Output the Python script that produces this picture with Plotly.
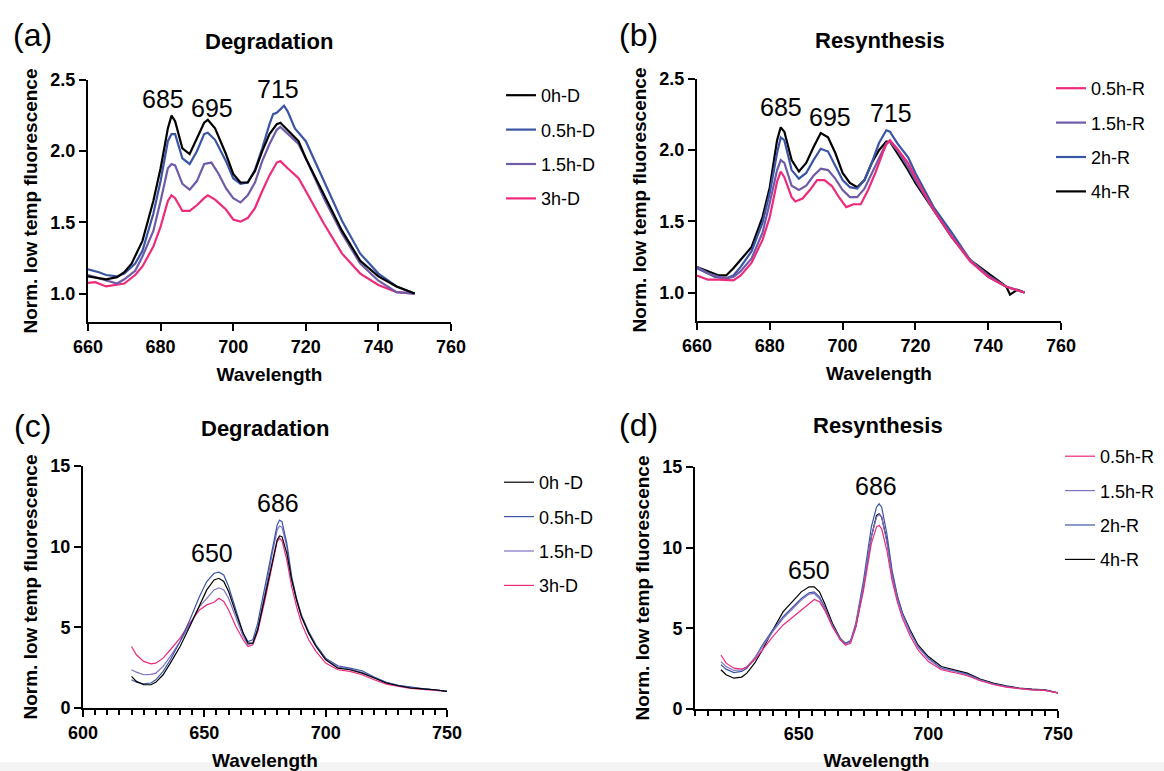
import plotly.graph_objects as go

# ---------------- Panel (a): Degradation, 660-750 nm ----------------
a_x_0h = [660, 665, 668, 670, 672, 675, 678, 680, 682, 683, 684, 686, 688, 690, 692, 693, 695, 698, 700,
          702, 704, 706, 708, 710, 712, 713, 715, 718, 720, 725, 730, 735, 740, 745, 750]
a_y_0h = [1.12, 1.10, 1.115, 1.15, 1.21, 1.37, 1.65, 1.88, 2.16, 2.25, 2.21, 2.02, 1.98, 2.09, 2.20, 2.22,
          2.16, 1.98, 1.84, 1.78, 1.78, 1.86, 2.00, 2.12, 2.19, 2.20, 2.15, 2.07, 1.95, 1.70, 1.44, 1.23,
          1.12, 1.05, 1.00]
a_x_05h = [660, 663, 665, 668, 670, 673, 675, 678, 680, 682, 683, 684, 686, 688, 690, 692, 693, 695, 698,
           700, 702, 704, 706, 708, 710, 711, 712, 714, 715, 717, 720, 725, 730, 735, 740, 745, 750]
a_y_05h = [1.17, 1.15, 1.13, 1.12, 1.14, 1.21, 1.30, 1.56, 1.79, 2.07, 2.12, 2.12, 1.95, 1.91, 2.00, 2.12,
           2.13, 2.08, 1.93, 1.81, 1.77, 1.78, 1.87, 2.02, 2.19, 2.26, 2.27, 2.32, 2.28, 2.16, 2.07, 1.79,
           1.51, 1.28, 1.14, 1.05, 1.00]
a_x_15h = [660, 665, 668, 670, 673, 675, 678, 680, 682, 683, 684, 686, 688, 690, 692, 694, 696, 698, 700,
           702, 704, 706, 708, 710, 712, 713, 715, 718, 720, 725, 730, 735, 740, 745, 750]
a_y_15h = [1.13, 1.09, 1.07, 1.10, 1.16, 1.26, 1.44, 1.65, 1.88, 1.91, 1.90, 1.77, 1.73, 1.79, 1.91, 1.92,
           1.84, 1.74, 1.67, 1.64, 1.69, 1.78, 1.93, 2.05, 2.15, 2.17, 2.12, 2.05, 1.95, 1.67, 1.42, 1.21,
           1.09, 1.01, 1.00]
a_x_3h = [660, 662, 665, 668, 670, 673, 675, 678, 680, 682, 683, 684, 686, 688, 690, 692, 693, 695, 698,
          700, 702, 704, 706, 708, 710, 712, 713, 715, 718, 720, 725, 730, 735, 740, 745, 750]
a_y_3h = [1.075, 1.08, 1.05, 1.06, 1.07, 1.13, 1.19, 1.33, 1.47, 1.65, 1.69, 1.67, 1.58, 1.58, 1.62, 1.67,
          1.69, 1.66, 1.59, 1.52, 1.505, 1.53, 1.60, 1.72, 1.83, 1.92, 1.93, 1.88, 1.81, 1.72, 1.49, 1.28,
          1.14, 1.06, 1.01, 1.00]

# ---------------- Panel (b): Resynthesis, 660-750 nm ----------------
b_x_4h = [660, 663, 666, 668, 670, 672, 675, 678, 680, 682, 683, 684, 686, 688, 690, 692, 694, 696, 698,
          700, 702, 704, 706, 708, 710, 712, 713, 715, 718, 720, 725, 730, 735, 740, 745, 746, 748, 750]
b_y_4h = [1.18, 1.15, 1.12, 1.12, 1.17, 1.23, 1.32, 1.53, 1.74, 2.07, 2.16, 2.13, 1.93, 1.85, 1.91, 2.02,
          2.12, 2.09, 1.98, 1.84, 1.77, 1.74, 1.79, 1.91, 2.00, 2.06, 2.06, 1.98, 1.86, 1.77, 1.58, 1.39,
          1.23, 1.135, 1.04, 0.985, 1.02, 1.00]
b_x_2h = [660, 665, 668, 670, 672, 675, 678, 680, 682, 683, 684, 686, 688, 690, 692, 694, 696, 698, 700,
          702, 704, 706, 708, 710, 712, 713, 715, 718, 720, 725, 730, 735, 740, 745, 750]
b_y_2h = [1.17, 1.11, 1.10, 1.12, 1.18, 1.29, 1.49, 1.70, 1.98, 2.09, 2.07, 1.86, 1.80, 1.84, 1.93, 2.01,
          1.99, 1.89, 1.79, 1.74, 1.73, 1.79, 1.91, 2.05, 2.14, 2.13, 2.05, 1.95, 1.84, 1.60, 1.42, 1.23,
          1.11, 1.04, 1.00]
b_x_15h = [660, 663, 666, 668, 670, 672, 675, 678, 680, 682, 683, 684, 686, 688, 690, 692, 694, 696, 698,
           700, 702, 704, 706, 708, 710, 712, 713, 715, 718, 720, 725, 730, 735, 740, 745, 750]
b_y_15h = [1.18, 1.135, 1.11, 1.10, 1.11, 1.15, 1.24, 1.42, 1.63, 1.86, 1.93, 1.91, 1.75, 1.72, 1.75, 1.82,
           1.87, 1.86, 1.80, 1.72, 1.67, 1.67, 1.73, 1.84, 1.95, 2.05, 2.06, 2.00, 1.88, 1.79, 1.58, 1.39,
           1.23, 1.12, 1.04, 1.00]
b_x_05h = [660, 663, 666, 668, 670, 672, 675, 678, 680, 682, 683, 684, 686, 687, 689, 691, 693, 695, 697,
           699, 701, 703, 705, 707, 709, 711, 712, 713, 715, 718, 720, 725, 730, 735, 740, 745, 750]
b_y_05h = [1.12, 1.09, 1.09, 1.09, 1.085, 1.12, 1.21, 1.37, 1.53, 1.78, 1.85, 1.81, 1.67, 1.64, 1.66, 1.72,
           1.79, 1.79, 1.75, 1.67, 1.60, 1.62, 1.62, 1.72, 1.84, 1.98, 2.04, 2.07, 2.01, 1.91, 1.81, 1.58,
           1.39, 1.22, 1.11, 1.04, 1.00]

# ---------------- Panels (c) and (d): 620-750 nm ----------------
cd_x = [620, 622, 625, 628, 630, 633, 636, 640, 644, 648, 651, 654, 656, 658, 660, 663, 666, 668, 670, 672,
        675, 678, 680, 681, 682, 684, 686, 688, 690, 693, 696, 700, 705, 710, 715, 720, 725, 730, 735, 740,
        745, 750]
c_y_0h = [1.96, 1.65, 1.44, 1.44, 1.59, 2.06, 2.78, 3.81, 5.05, 6.39, 7.32, 7.94, 8.04, 7.84, 7.22, 5.88,
          4.64, 4.02, 4.02, 4.85, 6.91, 9.18, 10.41, 10.66, 10.62, 9.59, 7.94, 6.70, 5.67, 4.64, 3.81, 2.99,
          2.47, 2.37, 2.16, 1.86, 1.55, 1.38, 1.24, 1.18, 1.13, 1.03]
c_y_05h = [1.75, 1.60, 1.50, 1.55, 1.75, 2.27, 2.99, 4.12, 5.46, 6.91, 7.84, 8.35, 8.42, 8.25, 7.53, 6.08,
           4.64, 4.12, 4.23, 5.26, 7.53, 10.00, 11.34, 11.65, 11.55, 10.21, 8.14, 6.80, 5.77, 4.74, 3.92,
           3.09, 2.62, 2.47, 2.31, 1.92, 1.59, 1.40, 1.28, 1.20, 1.13, 1.03]
c_y_15h = [2.37, 2.22, 2.06, 2.08, 2.16, 2.58, 3.20, 4.12, 5.15, 6.29, 6.80, 7.32, 7.45, 7.32, 6.80, 5.67,
           4.43, 3.92, 4.02, 4.95, 7.11, 9.59, 11.03, 11.28, 11.20, 10.00, 8.04, 6.70, 5.67, 4.64, 3.86,
           3.03, 2.54, 2.41, 2.21, 1.88, 1.57, 1.38, 1.26, 1.18, 1.13, 1.03]
c_y_3h = [3.81, 3.30, 2.89, 2.74, 2.78, 3.09, 3.61, 4.33, 5.26, 6.08, 6.39, 6.55, 6.80, 6.60, 6.08, 5.05,
          4.23, 3.81, 3.92, 4.74, 6.70, 8.97, 10.31, 10.52, 10.37, 9.18, 7.53, 6.29, 5.26, 4.23, 3.51, 2.78,
          2.37, 2.27, 2.06, 1.75, 1.48, 1.34, 1.22, 1.15, 1.11, 1.03]

d_y_05h = [3.35, 2.84, 2.53, 2.47, 2.59, 3.05, 3.66, 4.49, 5.21, 5.72, 6.13, 6.54, 6.79, 6.65, 6.13, 5.10,
           4.28, 3.97, 4.07, 5.06, 7.37, 10.25, 11.28, 11.38, 11.17, 9.84, 7.98, 6.65, 5.62, 4.53, 3.66,
           2.94, 2.43, 2.26, 2.06, 1.75, 1.52, 1.36, 1.26, 1.19, 1.15, 1.00]
d_y_15h = [2.94, 2.63, 2.39, 2.43, 2.63, 3.15, 3.87, 4.79, 5.62, 6.23, 6.75, 7.12, 7.16, 6.85, 6.23, 5.14,
           4.32, 4.03, 4.18, 5.21, 7.67, 10.66, 11.89, 12.06, 11.89, 10.35, 8.29, 6.85, 5.82, 4.73, 3.83,
           3.09, 2.51, 2.35, 2.12, 1.79, 1.54, 1.38, 1.26, 1.19, 1.15, 1.00]
d_y_2h = [2.74, 2.47, 2.26, 2.33, 2.53, 3.15, 3.97, 4.90, 5.72, 6.34, 6.85, 7.20, 7.26, 6.95, 6.34, 5.21,
          4.38, 4.07, 4.24, 5.31, 7.98, 11.28, 12.51, 12.72, 12.51, 10.86, 8.60, 7.06, 5.97, 4.79, 3.87,
          3.15, 2.53, 2.37, 2.16, 1.81, 1.56, 1.40, 1.28, 1.21, 1.17, 1.00]
d_y_4h = [2.43, 2.12, 1.91, 1.98, 2.22, 2.84, 3.66, 4.90, 6.03, 6.75, 7.26, 7.57, 7.57, 7.26, 6.54, 5.31,
          4.38, 4.07, 4.18, 5.10, 7.57, 10.66, 12.00, 12.10, 11.89, 10.45, 8.40, 6.95, 5.93, 4.90, 3.97,
          3.25, 2.63, 2.43, 2.22, 1.85, 1.60, 1.44, 1.30, 1.23, 1.19, 1.00]

# tick values
ab_xticks = [660, 680, 700, 720, 740, 760]
ab_yticks = [1.0, 1.5, 2.0, 2.5]
cd_yticks = [0, 5, 10, 15]

BLACK = "#000000"
BLUE = "#3B55A5"
PURPLE = "#6F5BA8"
PINK = "#EE2A7B"
LPURPLE = "#7E6FC4"

W, H = 1164, 771
FONT = "Liberation Sans"


def px_x(p):
    return p / W


def px_y(p):
    return 1 - p / H


fig = go.Figure()

# series definitions: (panel suffix, legend id, name, x, y, color, width, rank)
series = [
    ("", "legend", "0h-D", a_x_0h, a_y_0h, BLACK, 2.2, 1),
    ("", "legend", "0.5h-D", a_x_05h, a_y_05h, BLUE, 2.2, 2),
    ("", "legend", "1.5h-D", a_x_15h, a_y_15h, PURPLE, 2.2, 3),
    ("", "legend", "3h-D", a_x_3h, a_y_3h, PINK, 2.2, 4),
    ("2", "legend2", "0.5h-R", b_x_05h, b_y_05h, PINK, 2.2, 1),
    ("2", "legend2", "1.5h-R", b_x_15h, b_y_15h, PURPLE, 2.2, 2),
    ("2", "legend2", "2h-R", b_x_2h, b_y_2h, BLUE, 2.2, 3),
    ("2", "legend2", "4h-R", b_x_4h, b_y_4h, BLACK, 2.2, 4),
    ("3", "legend3", "0h -D", cd_x, c_y_0h, BLACK, 1.2, 1),
    ("3", "legend3", "0.5h-D", cd_x, c_y_05h, BLUE, 1.2, 2),
    ("3", "legend3", "1.5h-D", cd_x, c_y_15h, LPURPLE, 1.2, 3),
    ("3", "legend3", "3h-D", cd_x, c_y_3h, PINK, 1.2, 4),
    ("4", "legend4", "0.5h-R", cd_x, d_y_05h, PINK, 1.2, 1),
    ("4", "legend4", "1.5h-R", cd_x, d_y_15h, LPURPLE, 1.2, 2),
    ("4", "legend4", "2h-R", cd_x, d_y_2h, BLUE, 1.2, 3),
    ("4", "legend4", "4h-R", cd_x, d_y_4h, BLACK, 1.2, 4),
]

# first listed series drawn on top -> add in reverse order within each panel
for s in reversed(series):
    suf, leg, name, xs, ys, col, lw, rank = s
    fig.add_trace(go.Scatter(
        x=xs, y=ys, mode="lines", name=name,
        line=dict(color=col, width=lw),
        xaxis="x" + suf, yaxis="y" + suf,
        legend=leg, legendrank=rank, legendgroup=leg + name,
        showlegend=True,
    ))

tickfont = dict(family=FONT, size=18, color="black", weight="bold")
titlefont = dict(family=FONT, size=19, color="black", weight="bold")
ylabel = "Norm. low temp fluorescence"


def axis_base(**kw):
    d = dict(showline=True, linecolor="black", linewidth=2, ticks="outside", ticklen=7,
             tickwidth=2, tickcolor="black", showgrid=False, zeroline=False,
             tickfont=tickfont, fixedrange=True, automargin=False)
    d.update(kw)
    return d


# domains (pixel measurements from reference)
dom = {
    "a": dict(x=[px_x(88), px_x(451)], y=[px_y(322), px_y(80)]),
    "b": dict(x=[px_x(697), px_x(1061)], y=[px_y(321), px_y(79)]),
    "c": dict(x=[px_x(83), px_x(447)], y=[px_y(708), px_y(466)]),
    "d": dict(x=[px_x(695), px_x(1058)], y=[px_y(709), px_y(467)]),
}

fig.update_layout(
    xaxis=axis_base(domain=dom["a"]["x"], range=[660, 760], tickvals=ab_xticks, anchor="y",
                    title=dict(text="Wavelength", font=titlefont, standoff=12)),
    yaxis=axis_base(domain=dom["a"]["y"], range=[0.8, 2.5], tickvals=ab_yticks, tickformat=".1f",
                    anchor="x", title=dict(text=ylabel, font=titlefont, standoff=8)),
    xaxis2=axis_base(domain=dom["b"]["x"], range=[660, 760], tickvals=ab_xticks, anchor="y2",
                     title=dict(text="Wavelength", font=titlefont, standoff=12)),
    yaxis2=axis_base(domain=dom["b"]["y"], range=[0.8, 2.5], tickvals=ab_yticks, tickformat=".1f",
                     anchor="x2", title=dict(text=ylabel, font=titlefont, standoff=8)),
    xaxis3=axis_base(domain=dom["c"]["x"], range=[600, 750], tick0=600, dtick=50, anchor="y3",
                     minor=dict(dtick=5, tick0=600, ticks="outside", ticklen=5, tickwidth=2,
                                tickcolor="black", showgrid=False),
                     title=dict(text="Wavelength", font=titlefont, standoff=15)),
    yaxis3=axis_base(domain=dom["c"]["y"], range=[0, 15], tickvals=cd_yticks, anchor="x3",
                     title=dict(text=ylabel, font=titlefont, standoff=8)),
    xaxis4=axis_base(domain=dom["d"]["x"], range=[610, 750], tick0=600, dtick=50, anchor="y4",
                     minor=dict(dtick=5, tick0=600, ticks="outside", ticklen=5, tickwidth=2,
                                tickcolor="black", showgrid=False),
                     title=dict(text="Wavelength", font=titlefont, standoff=15)),
    yaxis4=axis_base(domain=dom["d"]["y"], range=[0, 15], tickvals=cd_yticks, anchor="x4",
                     title=dict(text=ylabel, font=titlefont, standoff=8)),
)

legfont = dict(family=FONT, size=18, color="black")


def legend_at(xp, yp):
    return dict(x=px_x(xp), y=px_y(yp), xanchor="left", yanchor="top", font=legfont,
                bgcolor="rgba(0,0,0,0)", borderwidth=0, tracegroupgap=8, itemwidth=30,
                traceorder="grouped")


fig.update_layout(
    legend=legend_at(501, 77),
    legend2=legend_at(1051, 70),
    legend3=legend_at(499, 464),
    legend4=legend_at(1060, 438),
)

# panel letters and titles
ann = []
for txt, xp, yp in [("(a)", 32, 35), ("(b)", 638, 35), ("(c)", 32, 426), ("(d)", 638, 425)]:
    ann.append(dict(text=txt, x=px_x(xp), y=px_y(yp), xref="paper", yref="paper", showarrow=False,
                    font=dict(family=FONT, size=32, color="black"), xanchor="center", yanchor="middle"))
for txt, xp, yp in [("Degradation", 269, 41), ("Resynthesis", 880, 40), ("Degradation", 265, 428),
                    ("Resynthesis", 878, 425)]:
    ann.append(dict(text=txt, x=px_x(xp), y=px_y(yp), xref="paper", yref="paper", showarrow=False,
                    font=dict(family=FONT, size=22, color="black", weight="bold"),
                    xanchor="center", yanchor="middle"))

# peak labels (data coordinates)
peak_labels = [
    ("685", 680.7, 2.37, "x", "y"), ("695", 694.2, 2.30, "x", "y"), ("715", 712.3, 2.44, "x", "y"),
    ("685", 683.1, 2.30, "x2", "y2"), ("695", 696.5, 2.23, "x2", "y2"), ("715", 713.3, 2.26, "x2", "y2"),
    ("650", 653.2, 9.6, "x3", "y3"), ("686", 680.3, 12.7, "x3", "y3"),
    ("650", 654.0, 8.6, "x4", "y4"), ("686", 679.8, 13.8, "x4", "y4"),
]
for txt, xv, yv, xr, yr in peak_labels:
    ann.append(dict(text=txt, x=xv, y=yv, xref=xr, yref=yr, showarrow=False,
                    font=dict(family=FONT, size=25, color="black"), xanchor="center", yanchor="middle"))

fig.update_layout(
    annotations=ann,
    shapes=[dict(type="rect", xref="paper", yref="paper", x0=0, x1=1, y0=0, y1=px_y(762),
                 fillcolor="#f4f4f4", line=dict(width=0), layer="below")],
    width=W, height=H,
    margin=dict(l=0, r=0, t=0, b=0, pad=0, autoexpand=False),
    paper_bgcolor="white", plot_bgcolor="white",
    showlegend=True,
)

fig.write_html("out.html", config={"displayModeBar": False},
               post_script="document.body.style.margin='0';document.body.style.overflow='hidden';")
